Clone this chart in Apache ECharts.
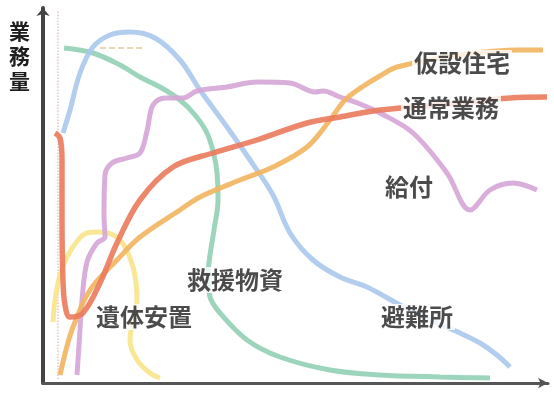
<!DOCTYPE html>
<html lang="ja" style="height: 100%">
<head>
    <meta charset="utf-8">
    <title>業務量の推移</title>
    <script src="https://cdn.jsdelivr.net/npm/echarts@6/dist/echarts.min.js"></script>
</head>
<body style="height: 100%; margin: 0; background: #fff">
    <div id="main" style="width: 554px; height: 394px"></div>
    <script>
        // 概念図なので単位は任意（横: 時間 0-505, 縦: 業務量 0-375）
        const hinanjo = [[20,250],[27,273],[37,310],[50,336],[67,348],[87,351],[112,345],[137,323],[157,293],[184,256],[207,223],[230,188],[247,150],[270,123],[297,106],[324,96],[357,78],[387,63],[417,50],[437,40],[454,28],[467,16]];
        const kyuen = [[21,335],[50,330],[77,318],[97,306],[117,296],[137,283],[152,268],[164,250],[171,228],[174,210],[175,183],[171,153],[167,128],[165,108],[167,86],[177,70],[204,43],[237,26],[287,13],[337,8],[397,6],[447,5]];
        const kyufu = [[34,8],[37,53],[39,83],[44,121],[54,140],[62,146],[61,168],[62,208],[69,220],[84,225],[97,230],[104,252],[110,278],[122,285],[140,285],[154,292],[184,296],[214,301],[247,300],[272,291],[280,292],[297,286],[317,279],[337,270],[370,250],[404,210],[427,173],[447,193],[470,200],[494,193]];
        const tsujo = [[12,250],[17,245],[19,223],[19,163],[20,103],[22,78],[27,66],[40,70],[57,100],[74,140],[97,183],[130,216],[170,230],[214,243],[264,260],[297,266],[337,273],[407,279],[467,285],[504,286]];
        const kasetsu = [[17,8],[23,33],[30,56],[47,93],[74,123],[97,146],[137,173],[157,186],[197,203],[230,216],[264,236],[287,263],[302,283],[322,298],[337,307],[354,316],[417,328],[477,333],[500,333]];
        const itai = [[10,61],[12,83],[17,108],[24,126],[35,143],[44,150],[57,151],[77,143],[90,116],[94,83],[90,63],[87,43],[94,23],[107,10],[117,5]];
        const guideV = [[15,4],[15,372]];
        const guideH = [[57,335],[100,335]];

        const labels = [
            { name: '仮設住宅', value: [419, 320] },
            { name: '通常業務', value: [408, 275] },
            { name: '給付', value: [366, 196] },
            { name: '救援物資', value: [192, 103] },
            { name: '遺体安置', value: [101, 66] },
            { name: '避難所', value: [374, 66] }
        ];

        const myChart = echarts.init(document.getElementById('main'), null, { renderer: 'canvas' });

        function curve(name, data, color, width) {
            return {
                name: name,
                type: 'line',
                data: data,
                smooth: 0.35,
                showSymbol: false,
                symbol: 'none',
                lineStyle: { color: color, width: width, opacity: 0.9 },
                silent: true,
                z: 2
            };
        }

        const option = {
            animation: false,
            backgroundColor: '#fff',
            grid: { left: 43, right: 6, top: 8, bottom: 11 },
            xAxis: {
                type: 'value',
                min: 0,
                max: 505,
                axisLine: {
                    show: true,
                    symbol: ['none', 'arrow'],
                    symbolSize: [8, 10],
                    lineStyle: { color: '#555', width: 3 }
                },
                axisTick: { show: false },
                axisLabel: { show: false },
                splitLine: { show: false }
            },
            yAxis: {
                type: 'value',
                min: 0,
                max: 375,
                axisLine: {
                    show: true,
                    symbol: ['none', 'arrow'],
                    symbolSize: [10, 8],
                    lineStyle: { color: '#444', width: 4 }
                },
                axisTick: { show: false },
                axisLabel: { show: false },
                splitLine: { show: false }
            },
            series: [
                {
                    type: 'line', data: guideV, symbol: 'none', silent: true,
                    lineStyle: { color: '#e6c4c4', width: 1.5, type: 'dotted' }, z: 1
                },
                {
                    type: 'line', data: guideH, symbol: 'none', silent: true,
                    lineStyle: { color: '#e2c9a4', width: 1.5, type: 'dashed' }, z: 1
                },
                curve('遺体安置', itai, '#f9e48a', 5),
                curve('救援物資', kyuen, '#92d0b5', 5),
                curve('避難所', hinanjo, '#aac8ec', 5),
                curve('給付', kyufu, '#d6a5d7', 5),
                curve('仮設住宅', kasetsu, '#f2b45e', 5),
                curve('通常業務', tsujo, '#ea7a5c', 5.5),
                {
                    type: 'scatter',
                    data: labels,
                    symbolSize: 0,
                    silent: true,
                    z: 5,
                    label: {
                        show: true,
                        position: 'inside',
                        formatter: '{b}',
                        fontFamily: 'Noto Sans CJK JP',
                        fontSize: 24,
                        fontWeight: 'bold',
                        color: '#1e1e1e',
                        backgroundColor: '#fff',
                        padding: [1, 2]
                    }
                }
            ],
            graphic: [{
                type: 'text',
                left: 9,
                top: 19,
                style: {
                    text: '業\n務\n量',
                    font: 'bold 21px "Noto Sans CJK JP"',
                    lineHeight: 25,
                    fill: '#1e1e1e'
                }
            }]
        };

        myChart.setOption(option);
    </script>
</body>
</html>
